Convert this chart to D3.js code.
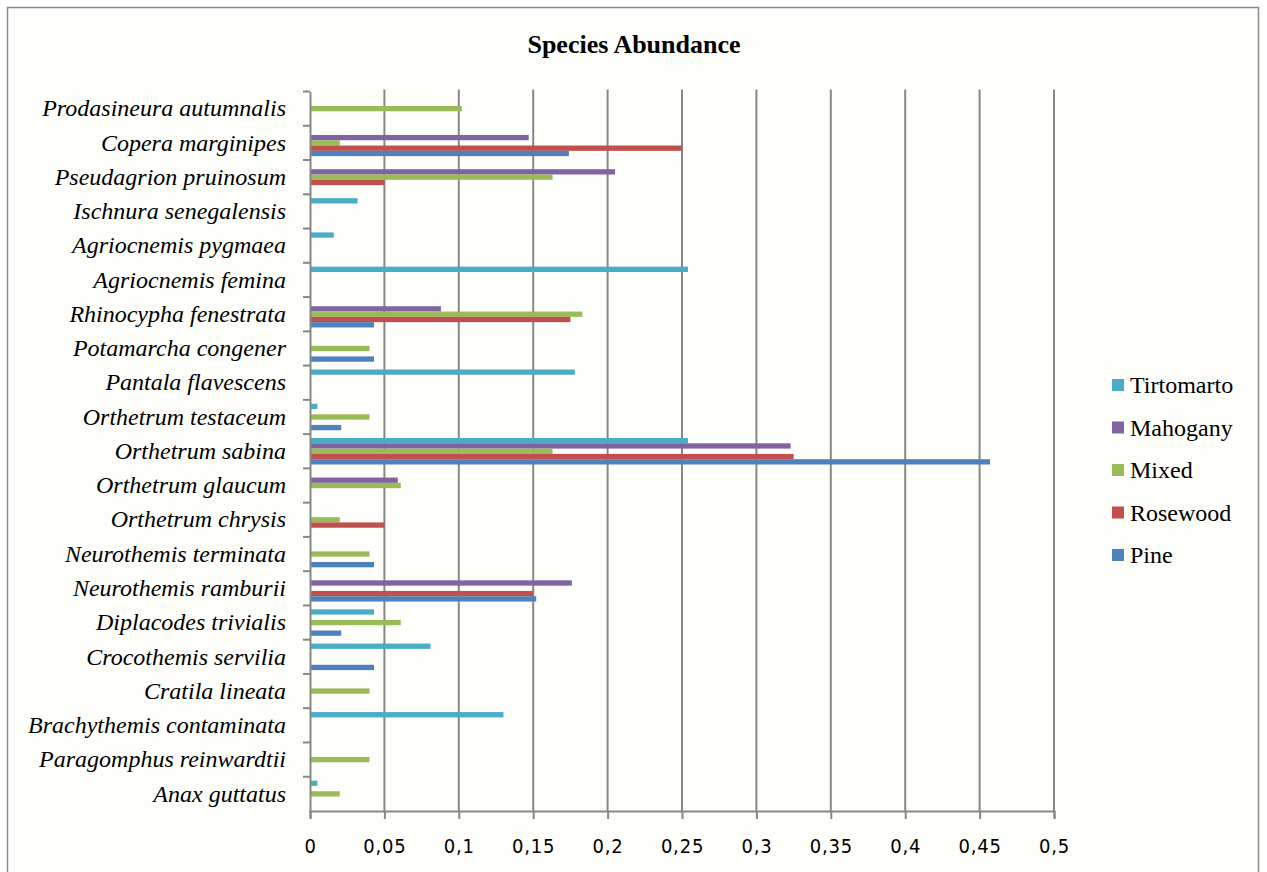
<!DOCTYPE html>
<html>
<head>
<meta charset="utf-8">
<script src="https://cdn.jsdelivr.net/npm/d3@7"></script>
<style>
  body { margin: 0; background: #fff; }
  svg { display: block; }
</style>
</head>
<body>
<div id="chart"></div>
<script>
// Species names, top to bottom as in the chart.
var species = [
  "Prodasineura autumnalis", "Copera marginipes", "Pseudagrion pruinosum",
  "Ischnura senegalensis", "Agriocnemis pygmaea", "Agriocnemis femina",
  "Rhinocypha fenestrata", "Potamarcha congener", "Pantala flavescens",
  "Orthetrum testaceum", "Orthetrum sabina", "Orthetrum glaucum",
  "Orthetrum chrysis", "Neurothemis terminata", "Neurothemis ramburii",
  "Diplacodes trivialis", "Crocothemis servilia", "Cratila lineata",
  "Brachythemis contaminata", "Paragomphus reinwardtii", "Anax guttatus"
];

// Series, listed in the order they sit inside each group (top to bottom).
var seriesNames = ["Tirtomarto", "Mahogany", "Mixed", "Rosewood", "Pine"];
var seriesColors = ["#4BACC6", "#8064A2", "#9BBB59", "#C0504D", "#4F81BD"];

// Values per series, same order as species.
var tirtomarto = [0, 0, 0, 0.032, 0.016, 0.254, 0, 0, 0.178, 0.005, 0.254, 0, 0, 0, 0, 0.043, 0.081, 0, 0.130, 0, 0.005];
var mahogany   = [0, 0.147, 0.205, 0, 0, 0, 0.088, 0, 0, 0, 0.323, 0.059, 0, 0, 0.176, 0, 0, 0, 0, 0, 0];
var mixed      = [0.102, 0.020, 0.163, 0, 0, 0, 0.183, 0.040, 0, 0.040, 0.163, 0.061, 0.020, 0.040, 0, 0.061, 0, 0.040, 0, 0.040, 0.020];
var rosewood   = [0, 0.250, 0.050, 0, 0, 0, 0.175, 0, 0, 0, 0.325, 0, 0.050, 0, 0.150, 0, 0, 0, 0, 0, 0];
var pine       = [0, 0.174, 0, 0, 0, 0, 0.043, 0.043, 0, 0.021, 0.457, 0, 0, 0.043, 0.152, 0.021, 0.043, 0, 0, 0, 0];

var seriesValues = [tirtomarto, mahogany, mixed, rosewood, pine];
var xTicks = [0, 0.05, 0.1, 0.15, 0.2, 0.25, 0.3, 0.35, 0.4, 0.45, 0.5];

var width = 1267, height = 872;
var margin = {left: 310, top: 91.5, right: 213, bottom: 61};
var serif = "'Liberation Serif', 'Times New Roman', serif";
var gridColor = "#878787";

var svg = d3.select("#chart").append("svg")
  .attr("width", width)
  .attr("height", height);

// chart frame
svg.append("rect")
  .attr("x", 7.5).attr("y", 7.5)
  .attr("width", 1251).attr("height", 870)
  .attr("fill", "#fdfdfa")
  .attr("stroke", "#8a8a8a")
  .attr("stroke-width", 1.5);

var x = d3.scaleLinear().domain([0, 0.5]).range([margin.left, width - margin.right]);
var y = d3.scaleBand().domain(species).range([margin.top, height - margin.bottom]);
var inner = d3.scaleBand().domain(seriesNames)
  .range([0, y.bandwidth()]).paddingOuter(0.73);

// title
svg.append("text")
  .attr("x", 634).attr("y", 53)
  .attr("text-anchor", "middle")
  .attr("font-family", serif)
  .attr("font-weight", "bold")
  .attr("font-size", 26)
  .text("Species Abundance");

// vertical gridlines
svg.append("g").selectAll("line")
  .data(xTicks.slice(1))
  .enter().append("line")
  .attr("x1", function(d) { return x(d); })
  .attr("x2", function(d) { return x(d); })
  .attr("y1", margin.top - 2)
  .attr("y2", height - margin.bottom)
  .attr("stroke", gridColor)
  .attr("stroke-width", 2);

// bars, one group per series; zero values are skipped
seriesNames.forEach(function(name, s) {
  var rows = seriesValues[s]
    .map(function(v, i) { return {species: species[i], value: v}; })
    .filter(function(d) { return d.value > 0; });
  svg.append("g").selectAll("rect")
    .data(rows)
    .enter().append("rect")
    .attr("x", x(0))
    .attr("y", function(d) { return y(d.species) + inner(name); })
    .attr("width", function(d) { return x(d.value) - x(0); })
    .attr("height", inner.bandwidth())
    .attr("fill", seriesColors[s]);
});

// x axis
var xAxis = d3.axisBottom(x).tickValues(xTicks).tickSize(8)
  .tickFormat(function(d) { return String(d).replace(".", ","); });
var gx = svg.append("g")
  .attr("transform", "translate(0," + (height - margin.bottom) + ")")
  .call(xAxis);
gx.select(".domain").attr("stroke", gridColor).attr("stroke-width", 2);
gx.selectAll(".tick line").attr("stroke", gridColor).attr("stroke-width", 2);
gx.selectAll(".tick text")
  .attr("y", 28)
  .attr("fill", "#000")
  .attr("font-family", "'DejaVu Sans Condensed', 'Liberation Sans Narrow', sans-serif")
  .attr("font-size", 20)
  .attr("letter-spacing", 0.8);

// y axis
var yAxis = d3.axisLeft(y).tickSize(0).tickPadding(24);
var gy = svg.append("g")
  .attr("transform", "translate(" + margin.left + ",0)")
  .call(yAxis);
gy.select(".domain").attr("stroke", gridColor).attr("stroke-width", 2);
gy.selectAll(".tick text")
  .attr("fill", "#000")
  .attr("font-family", serif)
  .attr("font-style", "italic")
  .attr("font-size", 24);

// y tick marks sit on band boundaries
svg.append("g").selectAll("line")
  .data(species)
  .enter().append("line")
  .attr("x1", margin.left - 7)
  .attr("x2", margin.left)
  .attr("y1", function(d) { return y(d); })
  .attr("y2", function(d) { return y(d); })
  .attr("stroke", gridColor)
  .attr("stroke-width", 2);

// legend
var legend = svg.append("g").selectAll("g")
  .data(seriesNames)
  .enter().append("g")
  .attr("transform", function(d, i) { return "translate(1112," + (385 + i * 42.5) + ")"; });
legend.append("rect")
  .attr("x", 0).attr("y", -6)
  .attr("width", 12).attr("height", 12)
  .attr("fill", function(d, i) { return seriesColors[i]; });
legend.append("text")
  .attr("x", 18).attr("y", 8)
  .attr("font-family", serif)
  .attr("font-size", 24)
  .text(function(d) { return d; });
</script>
</body>
</html>
